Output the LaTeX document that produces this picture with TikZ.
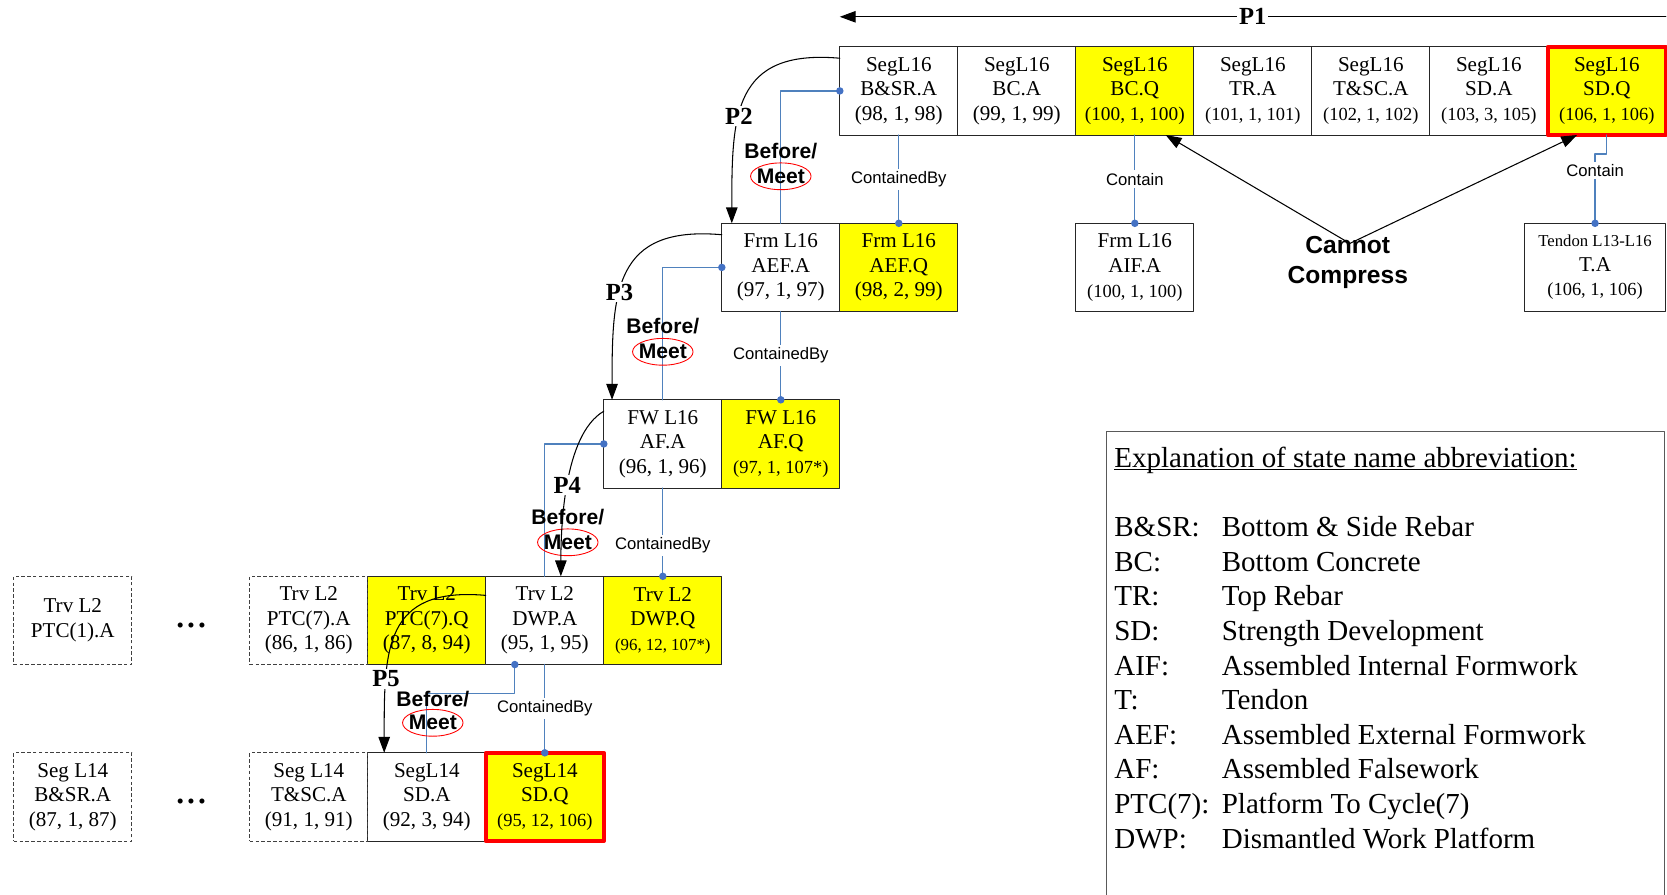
\documentclass[tikz,border=0pt]{standalone}
\usepackage{fontspec}
\setmainfont{Liberation Serif}
\newfontfamily\arialfont{Liberation Sans}
\usepackage{tikz}
\usetikzlibrary{arrows.meta,positioning,shapes.geometric}
\definecolor{linkblue}{HTML}{4F81BD}
\definecolor{dotblue}{HTML}{4472C4}
\definecolor{quietyellow}{HTML}{FFFF00}
\definecolor{finalred}{HTML}{FF0000}
\definecolor{boxline}{HTML}{262626}
\definecolor{legendline}{HTML}{595959}
\newcommand{\smallnum}[1]{{\fontsize{10.5}{14}\selectfont #1}}
\newcommand{\tinynum}[1]{{\fontsize{9.6}{14}\selectfont #1}}
\tikzset{
every picture/.style={line cap=round,line join=round},
state box/.style={
  draw=boxline,
  line width=0.6pt,
  fill=white,
  minimum width=2.36cm,
  minimum height=1.765cm,
  inner sep=0pt,
  outer sep=0pt,
  align=center,
  font=\fontsize{12}{14}\selectfont
},
quiet box/.style={state box, fill=quietyellow},
final box/.style={quiet box, draw=finalred, line width=2.2pt},
later box/.style={state box, fill=none, draw=black!75, line cap=butt, dash pattern=on 2pt off 1.3pt},
gap dots/.style={minimum width=2.36cm, inner sep=0pt, font=\fontsize{12}{12}\selectfont},
path arrow/.style={draw=black, line width=0.6pt, -{Triangle[length=9pt,width=6.5pt]}},
path label/.style={font=\fontsize{14}{14}\selectfont\bfseries, fill=white, inner sep=1pt},
link line/.style={draw=linkblue, line width=0.7pt},
link dot/.style={circle, fill=dotblue, inner sep=0pt, minimum size=0.15cm},
link label/.style={font=\arialfont\fontsize{9.5}{11}\selectfont, fill=white, inner sep=1.5pt},
order label/.style={font=\arialfont\bfseries\fontsize{12}{12}\selectfont, inner sep=0pt},
meet ring/.style={order label, ellipse, draw=finalred, line width=0.5pt, inner xsep=-1.5pt, inner ysep=1.2pt},
compress label/.style={font=\arialfont\bfseries\fontsize{14}{17.5}\selectfont, align=center, inner sep=0pt},
legend frame/.style={draw=legendline, line width=0.6pt},
legend text/.style={font=\fontsize{16.5}{19.7}\selectfont, inner sep=0pt}
}

\begin{document}
\begin{tikzpicture}[
node distance=1.765cm and 0cm,
]
\useasboundingbox (0,0) rectangle (33.34,-17.9);
% segment L16 states, top row
\node[state box, anchor=north west] (bsra) at (16.796,-0.936) {SegL16\\B\&SR.A\\(98, 1, 98)};
\node[state box, right=0pt of bsra] (bca) {SegL16\\BC.A\\(99, 1, 99)};
\node[quiet box, right=0pt of bca] (bcq) {SegL16\\BC.Q\\{\fontsize{11}{14}\selectfont (100, 1, 100)}};
\node[state box, right=0pt of bcq] (tra) {SegL16\\TR.A\\\smallnum{(101, 1, 101)}};
\node[state box, right=0pt of tra] (tsca) {SegL16\\T\&SC.A\\\smallnum{(102, 1, 102)}};
\node[state box, right=0pt of tsca] (sda) {SegL16\\SD.A\\\smallnum{(103, 3, 105)}};
\node[final box, right=0pt of sda] (sdq) {SegL16\\SD.Q\\\smallnum{(106, 1, 106)}};
% formwork, falsework and traveller stepping down to the left
\node[state box, below left=of bsra.south west] (aefa) {Frm L16\\AEF.A\\(97, 1, 97)};
\node[quiet box, right=0pt of aefa] (aefq) {Frm L16\\AEF.Q\\(98, 2, 99)};
\node[state box, below left=of aefa.south west] (afa) {FW L16\\AF.A\\(96, 1, 96)};
\node[quiet box, right=0pt of afa] (afq) {FW L16\\AF.Q\\\smallnum{(97, 1, 107*)}};
\node[state box, below left=of afa.south west] (dwpa) {Trv L2\\DWP.A\\(95, 1, 95)};
\node[quiet box, right=0pt of dwpa] (dwpq) {Trv L2\\DWP.Q\\\tinynum{(96, 12, 107*)}};
\node[quiet box, left=0pt of dwpa] (ptcq) {Trv L2\\PTC(7).Q\\(87, 8, 94)};
\node[later box, left=0pt of ptcq] (ptca) {Trv L2\\PTC(7).A\\(86, 1, 86)};
\node[later box, left=2.36cm of ptca] (ptcfirst) {Trv L2\\PTC(1).A};
\node[gap dots, right=0pt of ptcfirst, yshift=-0.14cm] (trvdots) {\textbullet\,\textbullet\,\textbullet};
% segment L14 row
\node[state box, below left=of dwpa.south west] (sdal) {SegL14\\SD.A\\(92, 3, 94)};
\node[final box, right=0pt of sdal] (sdql) {SegL14\\SD.Q\\\smallnum{(95, 12, 106)}};
\node[later box, left=0pt of sdal] (tscal) {Seg L14\\T\&SC.A\\(91, 1, 91)};
\node[later box, left=2.36cm of tscal] (bsral) {Seg L14\\B\&SR.A\\(87, 1, 87)};
\node[gap dots, right=0pt of bsral, yshift=-0.14cm] (segdots) {\textbullet\,\textbullet\,\textbullet};
% states held by the top row
\node[state box, below=of bcq] (aifa) {Frm L16\\AIF.A\\\smallnum{(100, 1, 100)}};
\node[state box, minimum width=2.83cm, below left=1.765cm and 0pt of sdq.south east] (tendon) {{\fontsize{9.5}{14}\selectfont Tendon L13-L16}\\T.A\\\smallnum{(106, 1, 106)}};

% containment links
\draw[link line] (bsra.south) -- node[link label]{ContainedBy} node[link dot, at end]{} (aefq.north);
\draw[link line] (bcq.south) -- node[link label]{Contain} node[link dot, at end]{} (aifa.north);
\draw[link line] (sdq.south) -- ++(0,-0.38) -| node[link label, pos=0.62]{Contain} node[link dot, at end]{} (tendon.north);
\draw[link line] (aefa.south) -- node[link label]{ContainedBy} node[link dot, at end]{} (afq.north);
\draw[link line] (afa.south) -- node[link label, pos=0.65]{ContainedBy} node[link dot, at end]{} (dwpq.north);
\draw[link line] (dwpa.south) -- node[link label]{ContainedBy} node[link dot, at end]{} (sdql.north);

% before/meet links
\draw[link line] (bsra.west) node[link dot]{} -| (aefa.north);
\draw[link line] (aefa.west) node[link dot]{} -| (afa.north);
\draw[link line] (afa.west) node[link dot]{} -| (dwpa.north);
\coordinate (p5link) at ([xshift=0.58cm]dwpa.south west);
\draw[link line] (p5link) node[link dot]{} -- ++(0,-0.58) -| (sdal.north);
\node[meet ring] (meet2) at ([yshift=0.94cm]aefa.north) {Meet};
\node[order label] (before2) at ([yshift=0.51cm]meet2.center) {Before/};
\node[meet ring] (meet3) at ([yshift=0.96cm]afa.north) {Meet};
\node[order label] (before3) at ([yshift=0.51cm]meet3.center) {Before/};
\node[meet ring] (meet4) at ([xshift=0.46cm,yshift=0.68cm]dwpa.north) {Meet};
\node[order label] (before4) at ([yshift=0.51cm]meet4.center) {Before/};
\node[meet ring] (meet5) at ([xshift=0.12cm,yshift=0.6cm]sdal.north) {Meet};
\node[order label] (before5) at ([yshift=0.48cm]meet5.center) {Before/};

% precedence paths P1 to P5
\coordinate (p1from) at ([yshift=0.6cm]sdq.north east);
\coordinate (p1to) at ([yshift=0.6cm]bsra.north west);
\draw[path arrow] (p1from) -- node[path label]{P1} (p1to);
\draw[path arrow] (bsra.151) to[out=175,in=90,looseness=1.4] node[path label,pos=0.6]{P2} (aefa.138);
\draw[path arrow] (aefa.151) to[out=175,in=90,looseness=1.4] node[path label,pos=0.6]{P3} (afa.139);
\draw[path arrow] (afa.151) to[out=210,in=90,looseness=0.7] node[path label,pos=0.5]{P4} (dwpa.70);
\draw[path arrow] (dwpa.157) to[out=175,in=90,looseness=1.4] node[path label,pos=0.73]{P5} (sdal.134);

% cannot compress
\node[compress label] (cc) at ([xshift=4.26cm,yshift=0.1cm]aifa.center) {Cannot\\Compress};
\coordinate (ccfrom) at ([xshift=0.04cm,yshift=0.38cm]cc.center);
\draw[path arrow] (ccfrom) -- (bcq.-55);
\draw[path arrow] (ccfrom) -- (sdq.-124);

% abbreviation legend
\draw[legend frame] (22.134,-17.9) |- (33.296,-8.632) -- (33.296,-17.9);
\node[legend text, anchor=base west] (legend) at (22.28,-9.346) {%
\begin{tabular}[t]{@{}p{2.15cm}@{}l@{}}
\multicolumn{2}{@{}l@{}}{\underline{\smash{Explanation of state name abbreviation:}}}\\
\\
B\&SR: & Bottom \& Side Rebar\\
BC: & Bottom Concrete\\
TR: & Top Rebar\\
SD: & Strength Development\\
AIF: & Assembled Internal Formwork\\
T: & Tendon\\
AEF: & Assembled External Formwork\\
AF: & Assembled Falsework\\
PTC(7): & Platform To Cycle(7)\\
DWP: & Dismantled Work Platform
\end{tabular}};
\end{tikzpicture}
\end{document}
